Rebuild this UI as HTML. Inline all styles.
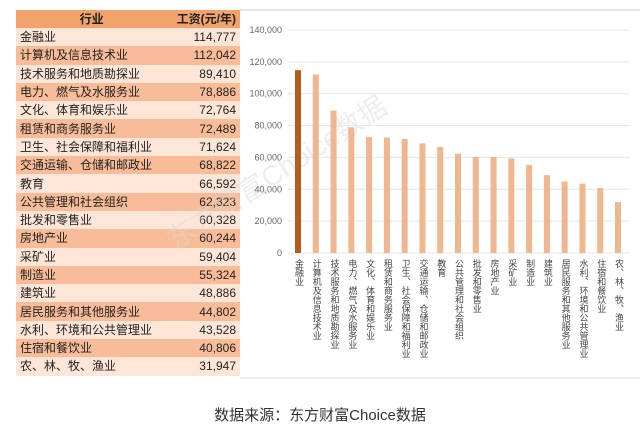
<!DOCTYPE html>
<html><head><meta charset="utf-8"><style>
body{margin:0;width:640px;height:437px;background:#fff;overflow:hidden;font-family:"Liberation Sans","Noto Sans CJK SC",sans-serif;position:relative}
#tbl{position:absolute;left:16px;top:10px;width:224px;border-collapse:collapse;font-size:12px}
#tbl td{height:18.3px;padding:0 4px;line-height:18px;color:#222}
#tbl tr.h td{background:#f2a36c;font-weight:bold;height:18px}
#tbl tr:nth-child(even) td{background:#fde6d8}
#tbl tr:nth-child(odd):not(.h) td{background:#f8bd98}
#tbl td.v{text-align:right}
#cap{position:absolute;left:0;width:640px;top:404px;text-align:center;font-size:15px;color:#333}
</style></head><body>
<table id="tbl"><tbody id="tb"></tbody></table>
<svg id="ch" width="640" height="437" style="position:absolute;left:0;top:0">
<line x1="240" y1="10" x2="640" y2="10" stroke="#ccc"/>
<line x1="240" y1="378" x2="640" y2="378" stroke="#ddd"/>
<text x="175" y="250" transform="rotate(-33 175 250)" font-size="28" fill="#d8d8d8" fill-opacity="0.45">东方财富Choice数据</text>
</svg>
<div id="cap">数据来源：东方财富Choice数据</div>
<script>
const categories=["金融业","计算机及信息技术业","技术服务和地质勘探业","电力、燃气及水服务业","文化、体育和娱乐业","租赁和商务服务业","卫生、社会保障和福利业","交通运输、仓储和邮政业","教育","公共管理和社会组织","批发和零售业","房地产业","采矿业","制造业","建筑业","居民服务和其他服务业","水利、环境和公共管理业","住宿和餐饮业","农、林、牧、渔业"];
const values=[114777,112042,89410,78886,72764,72489,71624,68822,66592,62323,60328,60244,59404,55324,48886,44802,43528,40806,31947];
const valueLabels=["114,777","112,042","89,410","78,886","72,764","72,489","71,624","68,822","66,592","62,323","60,328","60,244","59,404","55,324","48,886","44,802","43,528","40,806","31,947"];
const yTicks=[0,20000,40000,60000,80000,100000,120000,140000];
const yTickLabels=["0","20,000","40,000","60,000","80,000","100,000","120,000","140,000"];
const tb=document.getElementById('tb');
let hr=document.createElement('tr');hr.className='h';


hr.innerHTML='<td style="text-align:center">行业</td><td class="v">工资(元/年)</td>';tb.appendChild(hr);
categories.forEach((c,i)=>{const r=document.createElement('tr');


r.innerHTML='<td>'+c+'</td><td class="v">'+valueLabels[i]+'</td>';tb.appendChild(r);});
const svg=document.getElementById('ch'),NS='http://www.w3.org/2000/svg';
const y=v=>253-v*(253-30)/140000;
const x=i=>298+i*(618-298)/(categories.length-1);
function el(t,a){const e=document.createElementNS(NS,t);for(const k in a)e.setAttribute(k,a[k]);svg.appendChild(e);return e;}
yTicks.forEach((t,i)=>{const g=el('line',{x1:288,x2:630,y1:y(t),y2:y(t),stroke:'#e6e6e6'});


const tx=el('text',{x:282,y:y(t)+3,'text-anchor':'end','font-size':9,fill:'#666'});tx.textContent=yTickLabels[i];

});
values.forEach((v,i)=>{const b=el('rect',{x:x(i)-3,y:y(v),width:6,height:253-y(v),fill:i==0?'#b85c1e':'#f0b68e'});


const t=el('text',{x:x(i)+1,y:259,'font-size':9,fill:'#444',style:'writing-mode:vertical-rl;text-orientation:upright'});
t.textContent=categories[i];

});
</script>
</body></html>
